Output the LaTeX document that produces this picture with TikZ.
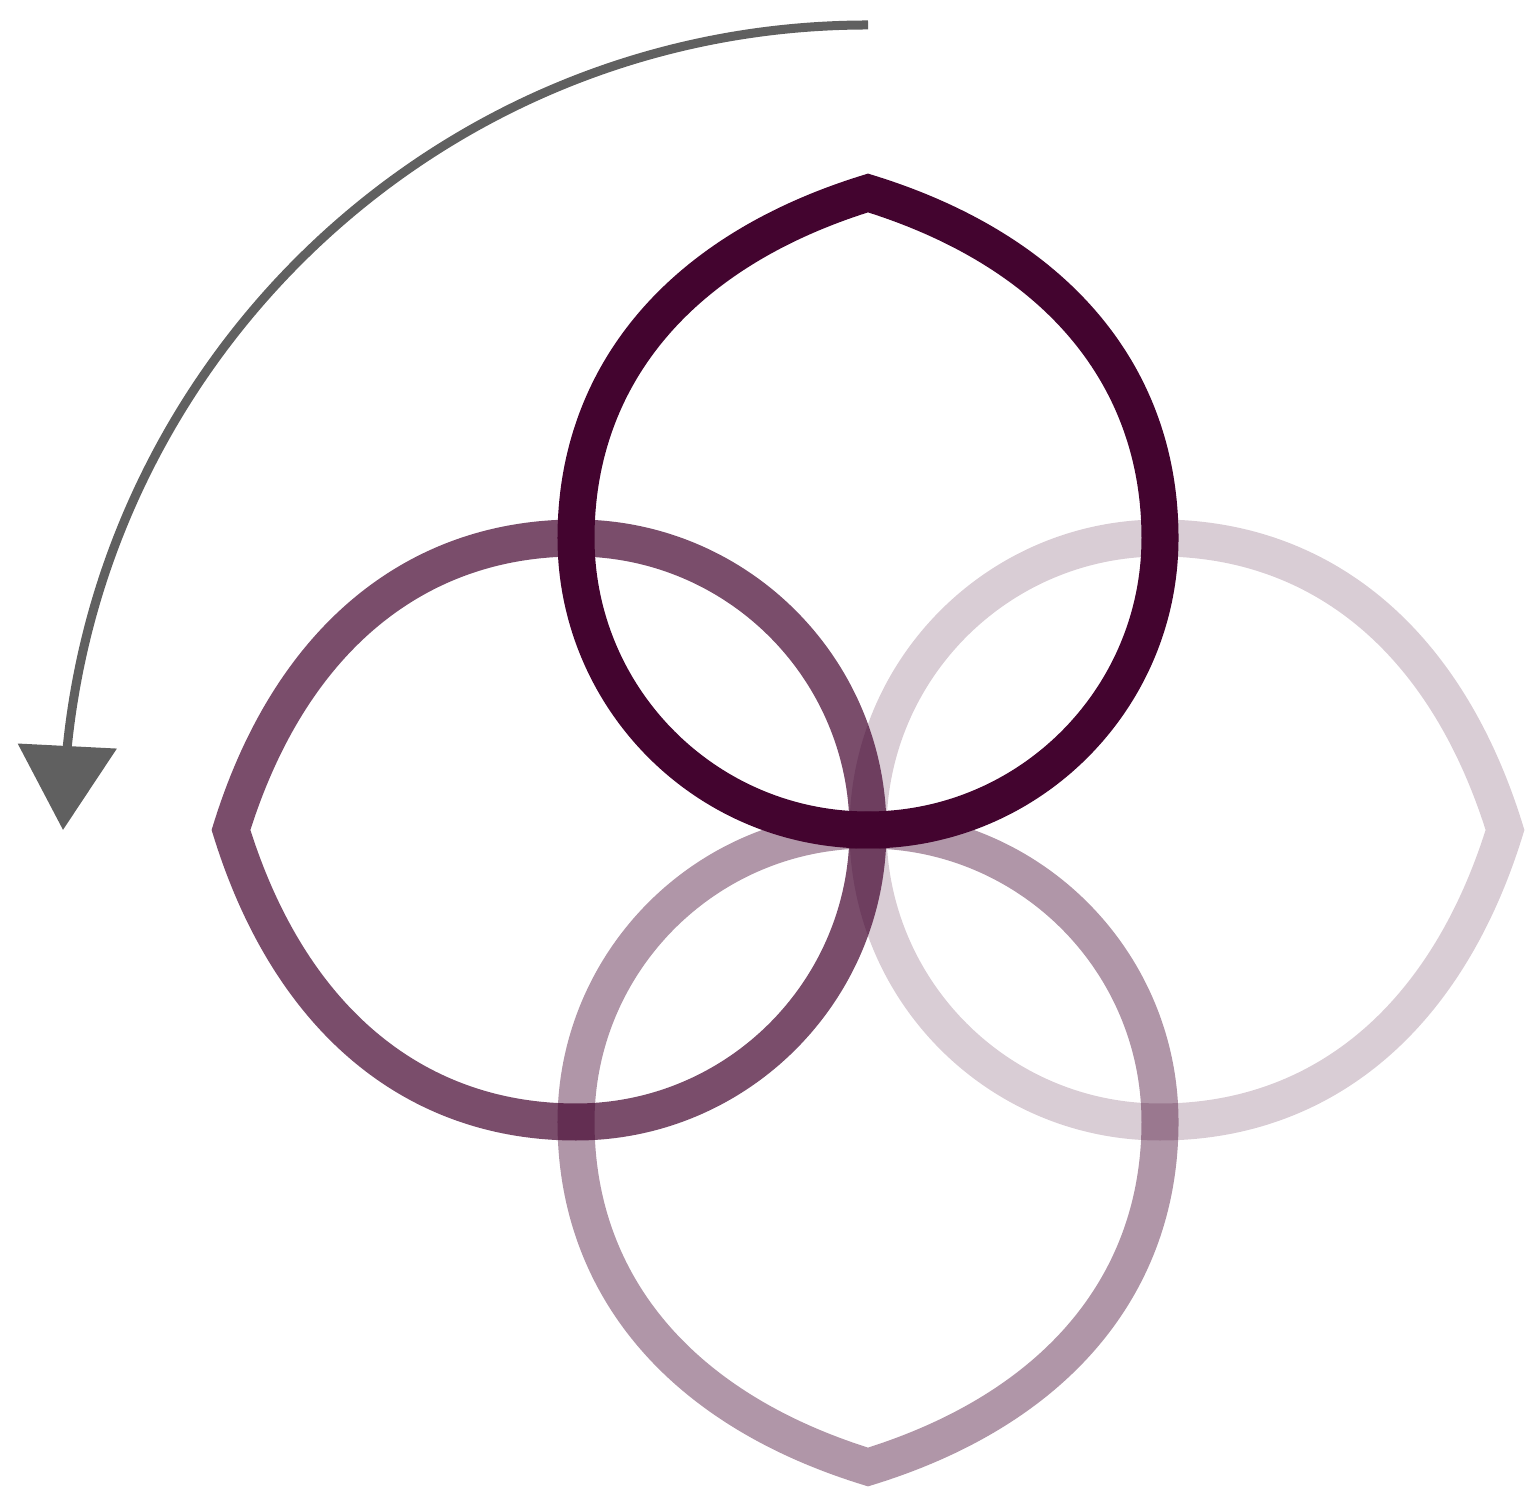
\documentclass[tikz,border=0pt]{standalone}
\usetikzlibrary{arrows.meta,bending}
\definecolor{plum}{RGB}{67,4,47}
\definecolor{arrowgray}{RGB}{96,96,96}
\tikzset{
  petal/.style={draw=plum, line width=0.37cm, draw opacity=#1},
  turnarrow/.style={draw=arrowgray, line width=0.09cm,
    -{Triangle[length=0.84cm, width=0.97cm, flex]}},
}
\newcommand{\petalpath}{%
  (0,637) .. controls (-191,578) and (-292,452) .. (-292,292)
  arc[start angle=180, end angle=360, radius=292]
  .. controls (292,452) and (191,578) .. cycle}
\begin{document}
\begin{tikzpicture}[x=0.01cm, y=0.01cm]
  \useasboundingbox (0,0) rectangle (1530,1500);
  \coordinate (C) at (868,670);
  % right petal (lightest)
  \begin{scope}[shift={(C)}, rotate=-90]
    \draw[petal=0.2] \petalpath;
  \end{scope}
  % bottom petal
  \begin{scope}[shift={(C)}, rotate=180]
    \draw[petal=0.42] \petalpath;
  \end{scope}
  % left petal
  \begin{scope}[shift={(C)}, rotate=90]
    \draw[petal=0.71] \petalpath;
  \end{scope}
  % top petal
  \begin{scope}[shift={(C)}]
    \draw[petal=1] \petalpath;
  \end{scope}
  % rotation arrow
  \coordinate (A0) at (868,1475);
  \draw[turnarrow] (A0) arc[start angle=90, end angle=180, radius=805];
\end{tikzpicture}
\end{document}
